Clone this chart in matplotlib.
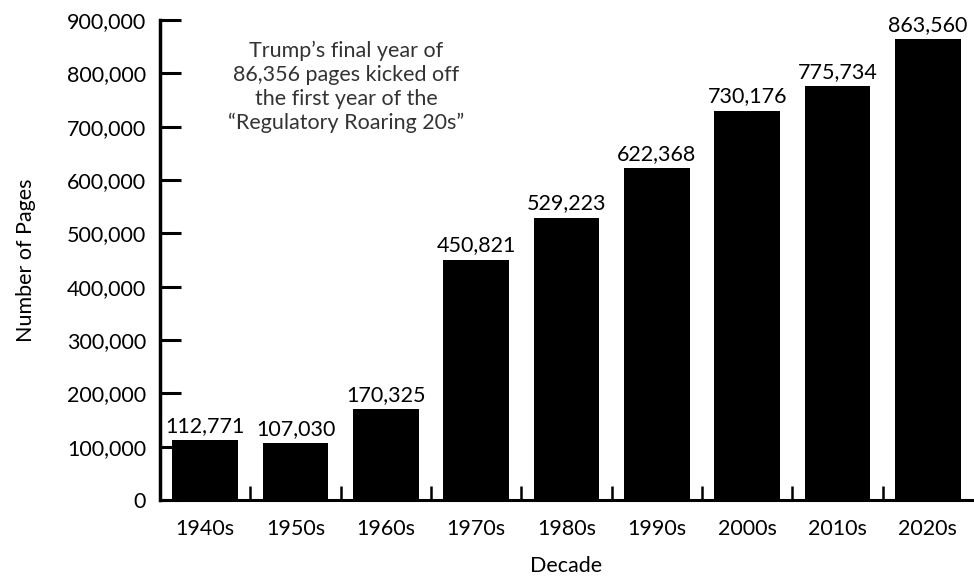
import matplotlib
matplotlib.use("Agg")
import matplotlib.pyplot as plt
import numpy as np

decades = ["1940s", "1950s", "1960s", "1970s", "1980s", "1990s", "2000s", "2010s", "2020s"]
pages = [112771, 107030, 170325, 450821, 529223, 622368, 730176, 775734, 863560]
yticks = [0, 100000, 200000, 300000, 400000, 500000, 600000, 700000, 800000, 900000]
note = "Trump\u2019s final year of\n86,356 pages kicked off\nthe first year of the\n\u201cRegulatory Roaring 20s\u201d"

plt.rcParams['font.family'] = ['Lato', 'DejaVu Sans']

fig = plt.figure(figsize=(9.74, 5.79), dpi=100)
ax = fig.add_axes([160/974, 79/579, 813/974, 480/579])

x = np.arange(len(decades))
ax.bar(x, pages, width=0.73, color='black')
for xi, v in zip(x, pages):
    ax.annotate(f"{v:,}", (xi, v), xytext=(0, 3), textcoords='offset points',
                ha='center', va='bottom', fontsize=15.5, clip_on=False)

ax.set_xlim(-0.5, len(decades) - 0.5)
ax.set_ylim(0, 900000)
ax.set_yticks(yticks)
ax.set_yticklabels([f"{t:,}" for t in yticks])
ax.set_xticks(x)
ax.set_xticklabels(decades)
ax.set_xticks(np.arange(0.5, len(decades) - 0.5, 1.0), minor=True)

ax.tick_params(axis='y', direction='in', length=15, width=2.2, labelsize=15.5, pad=10)
ax.tick_params(axis='x', which='major', length=0, labelsize=15.5, pad=14)
ax.tick_params(axis='x', which='minor', direction='in', length=10, width=1.8)

for s in ['top', 'right']:
    ax.spines[s].set_visible(False)
ax.spines['left'].set_linewidth(2.5)
ax.spines['bottom'].set_linewidth(2.2)

ax.set_xlabel("Decade", fontsize=15.5, labelpad=12)
ax.set_ylabel("Number of Pages", fontsize=15.5, labelpad=22)

ax.text(346/974, 1 - 87/579, note, transform=fig.transFigure, ha='center', va='center',
        fontsize=15.5, linespacing=1.25, color='#333333')

fig.savefig("out.png", dpi=100)
